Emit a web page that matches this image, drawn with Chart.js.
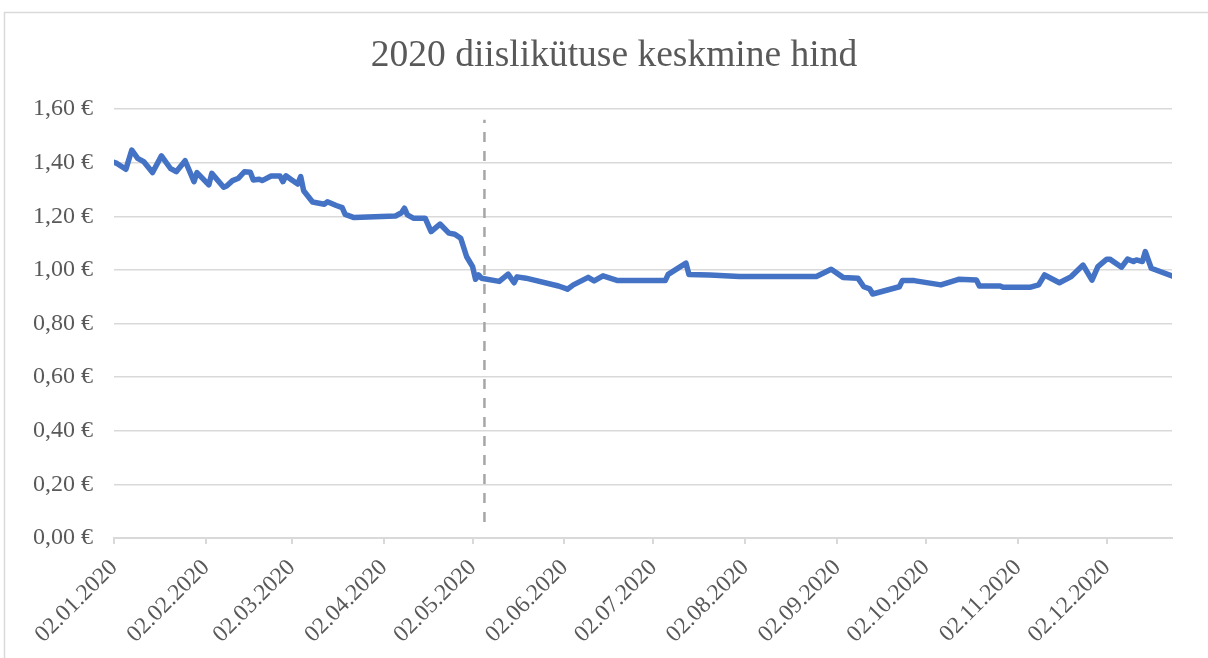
<!DOCTYPE html>
<html lang="et">
<head>
    <meta charset="UTF-8">
    <title>2020 diislikütuse keskmine hind</title>
    <style>
        body {
            margin: 0;
            background: #ffffff;
        }
        canvas {
            display: block;
        }
    </style>
</head>
<body>

<canvas id="hindChart" width="1208" height="658"></canvas>

<script src="https://cdn.jsdelivr.net/npm/chart.js"></script>
<script>
    // päevad alates 02.01.2020 ja keskmine hind (€/l)
    const paevad = [
        0, 1, 4, 6, 8, 10, 13, 16, 19, 21, 24, 27, 28, 32, 33, 37, 38, 40, 42, 44,
        46, 47, 49, 50, 53, 56, 57, 58, 60, 62, 63, 64, 67, 71, 72, 75, 77, 78, 81, 95,
        97, 98, 99, 101, 105, 107, 110, 113, 115, 117, 119, 121, 122, 123, 124, 130, 133, 135, 136, 139,
        150, 153, 155, 160, 162, 165, 170, 186, 187, 193, 194, 201, 211, 237, 242, 246, 251, 253, 255, 256,
        265, 266, 270, 279, 285, 291, 292, 299, 300, 309, 312, 314, 319, 323, 327, 330, 332, 335, 336, 340,
        342, 344, 345, 347, 348, 350, 357
    ];
    const hinnad = [
        1.401, 1.397, 1.375, 1.447, 1.416, 1.404, 1.363, 1.425, 1.379, 1.366, 1.407, 1.329, 1.363, 1.317, 1.360, 1.308, 1.313, 1.333, 1.342, 1.366,
        1.364, 1.335, 1.338, 1.333, 1.350, 1.350, 1.329, 1.351, 1.335, 1.320, 1.348, 1.295, 1.253, 1.245, 1.254, 1.240, 1.232, 1.207, 1.195, 1.201,
        1.213, 1.230, 1.205, 1.193, 1.193, 1.143, 1.171, 1.137, 1.133, 1.118, 1.049, 1.012, 0.965, 0.981, 0.969, 0.957, 0.984, 0.952, 0.974, 0.969,
        0.940, 0.928, 0.944, 0.972, 0.959, 0.978, 0.960, 0.960, 0.983, 1.025, 0.983, 0.981, 0.975, 0.975, 1.002, 0.972, 0.969, 0.937, 0.929, 0.910,
        0.937, 0.960, 0.960, 0.944, 0.965, 0.962, 0.940, 0.940, 0.935, 0.935, 0.944, 0.981, 0.952, 0.975, 1.018, 0.962, 1.012, 1.040, 1.040, 1.010,
        1.040, 1.031, 1.037, 1.031, 1.068, 1.006, 0.977
    ];

    // kuupäevade märgid x-teljel
    const kuuPaevad = [0, 31, 60, 91, 121, 152, 182, 213, 244, 274, 305, 335];
    const kuuSildid = [
        '02.01.2020', '02.02.2020', '02.03.2020', '02.04.2020', '02.05.2020', '02.06.2020',
        '02.07.2020', '02.08.2020', '02.09.2020', '02.10.2020', '02.11.2020', '02.12.2020'
    ];

    // katkendjoon (06.05.2020)
    const piiriPaev = 125;
    const piiriHinnad = [0.06, 1.56];

    const pealkiri = '2020 diislikütuse keskmine hind';
    const tekstiVarv = '#595959';
    const ruuduVarv = '#d9d9d9';
    const font = 'Liberation Serif';

    // raam ümber diagrammi + pealkiri (Exceli moodi, veidi paremal keskelt)
    const raam = {
        id: 'raam',
        beforeDraw(chart) {
            const c = chart.ctx;
            c.save();
            c.fillStyle = '#ffffff';
            c.fillRect(0, 0, chart.width, chart.height);
            c.strokeStyle = ruuduVarv;
            c.lineWidth = 1.5;
            c.strokeRect(4.5, 12.5, chart.width + 20, chart.height + 20);
            c.fillStyle = tekstiVarv;
            c.font = '37.5px "' + font + '"';
            c.textAlign = 'center';
            c.textBaseline = 'middle';
            c.fillText(pealkiri, 614, 56);
            c.restore();
        }
    };

    const ctx = document.getElementById('hindChart').getContext('2d');
    new Chart(ctx, {
        type: 'line',
        data: {
            datasets: [
                {
                    label: 'Keskmine hind',
                    data: paevad.map((p, i) => ({ x: p, y: hinnad[i] })),
                    borderColor: '#4472C4',
                    borderWidth: 5.5,
                    borderCapStyle: 'round',
                    borderJoinStyle: 'round',
                    pointRadius: 0,
                    tension: 0
                },
                {
                    label: 'Piir',
                    data: piiriHinnad.map(h => ({ x: piiriPaev, y: h })),
                    borderColor: '#a6a6a6',
                    borderWidth: 2.5,
                    borderDash: [10, 9],
                    pointRadius: 0
                }
            ]
        },
        options: {
            responsive: false,
            animation: false,
            layout: {
                padding: { top: 109, right: 36, bottom: 0, left: 0 }
            },
            plugins: {
                legend: { display: false },
                tooltip: { enabled: false },
                title: { display: false }
            },
            scales: {
                x: {
                    type: 'linear',
                    min: 0,
                    max: 357,
                    afterBuildTicks: scale => {
                        scale.ticks = kuuPaevad.map(v => ({ value: v }));
                    },
                    afterFit: scale => {
                        scale.height = 120;
                    },
                    ticks: {
                        autoSkip: false,
                        minRotation: 45,
                        maxRotation: 45,
                        padding: 10,
                        color: tekstiVarv,
                        font: { family: font, size: 23.5 },
                        callback: (value, index) => kuuSildid[index]
                    },
                    grid: {
                        drawOnChartArea: false,
                        drawTicks: true,
                        tickLength: 6,
                        color: ruuduVarv,
                        lineWidth: 2
                    },
                    border: { display: true, color: ruuduVarv, width: 2 }
                },
                y: {
                    min: 0,
                    max: 1.6,
                    afterFit: scale => {
                        scale.width = 114;
                    },
                    ticks: {
                        stepSize: 0.2,
                        padding: 21,
                        color: tekstiVarv,
                        font: { family: font, size: 24 },
                        callback: v => v.toFixed(2).replace('.', ',') + ' €'
                    },
                    grid: {
                        drawTicks: false,
                        color: ruuduVarv,
                        lineWidth: 1.5
                    },
                    border: { display: false }
                }
            }
        },
        plugins: [raam]
    });
</script>

</body>
</html>
